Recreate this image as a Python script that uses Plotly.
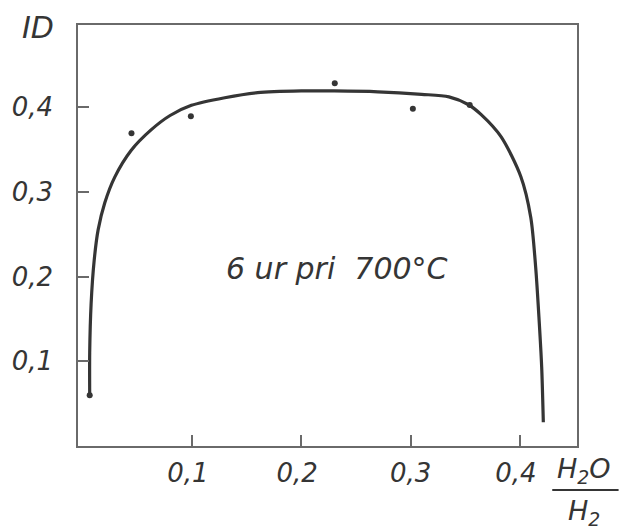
import plotly.graph_objects as go

# Smoothed curve of ID versus the H2O/H2 ratio (6 h at 700 °C)
curve_ratio = [0.0065, 0.0065, 0.0078, 0.0106, 0.0142, 0.0203, 0.0293, 0.0445, 0.0626,
               0.080, 0.0995, 0.130, 0.160, 0.200, 0.230, 0.270, 0.310, 0.335, 0.3526,
               0.3645, 0.3826, 0.4007, 0.4098, 0.4143, 0.4173, 0.4198, 0.4213]
curve_id = [0.060, 0.110, 0.168, 0.219, 0.255, 0.287, 0.317, 0.349, 0.373,
            0.390, 0.402, 0.411, 0.417, 0.419, 0.419, 0.418, 0.415, 0.412, 0.403,
            0.391, 0.365, 0.318, 0.270, 0.211, 0.152, 0.093, 0.028]

# Measured points
meas_ratio = [0.0447, 0.099, 0.2306, 0.302, 0.354]
meas_id = [0.369, 0.389, 0.428, 0.398, 0.4025]

x_ticks = [0.1, 0.2, 0.3, 0.4]
x_ticktext = ["0,1 ", "0,2 ", "0,3", "0,4 "]
y_ticks = [0.1, 0.2, 0.3, 0.4]
y_ticktext = ["0,1", "0,2", "0,3", "0,4"]

INK = "#353535"
AXIS = "#6a6a6a"
FONT = "DejaVu Sans"

W, H = 619, 530
L, R, T, B = 73, 42, 25, 84


def px(x, y):
    """Pixel position in the page -> paper coordinates."""
    return (x - L) / (W - L - R), (H - B - y) / (H - T - B)


fig = go.Figure()
fig.add_trace(go.Scatter(
    x=curve_ratio, y=curve_id, mode="lines",
    line=dict(color=INK, width=3.2, shape="spline", smoothing=0.8),
    hoverinfo="skip", showlegend=False,
))
fig.add_trace(go.Scatter(
    x=meas_ratio, y=meas_id, mode="markers",
    marker=dict(color=INK, size=6),
    showlegend=False,
))
fig.add_trace(go.Scatter(
    x=[curve_ratio[0]], y=[curve_id[0]], mode="markers",
    marker=dict(color=INK, size=6), showlegend=False,
))

axis_common = dict(
    showgrid=False, zeroline=False, showline=True, linecolor=AXIS, linewidth=1.6,
    mirror=True, ticks="inside", ticklen=11, tickwidth=1.5, tickcolor=AXIS,
    tickfont=dict(family=FONT, size=26, color=INK, style="italic"),
)

fig.update_xaxes(range=[-0.0042, 0.4521], tickvals=x_ticks, ticktext=x_ticktext,
                 ticklabelstandoff=3, **axis_common)
fig.update_yaxes(range=[0, 0.4968], tickvals=y_ticks, ticktext=y_ticktext,
                 ticklabelstandoff=18, **axis_common)

annotations = []
ax, ay = px(33, 27)
annotations.append(dict(x=ax, y=ay, xref="paper", yref="paper", text="ID",
                        showarrow=False, font=dict(family=FONT, size=30, color=INK, style="italic"),
                        xanchor="center", yanchor="middle"))
ax, ay = px(335, 268)
annotations.append(dict(x=ax, y=ay, xref="paper", yref="paper", text="6 ur pri  700°C",
                        showarrow=False, font=dict(family=FONT, size=30, color=INK, style="italic"),
                        xanchor="center", yanchor="middle"))
ax, ay = px(584, 470)
annotations.append(dict(x=ax, y=ay, xref="paper", yref="paper", text="H<sub>2</sub>O",
                        showarrow=False, font=dict(family=FONT, size=27, color=INK, style="italic"),
                        xanchor="center", yanchor="middle"))
ax, ay = px(584, 512)
annotations.append(dict(x=ax, y=ay, xref="paper", yref="paper", text="H<sub>2</sub>",
                        showarrow=False, font=dict(family=FONT, size=27, color=INK, style="italic"),
                        xanchor="center", yanchor="middle"))

x0, y0 = px(552, 490)
x1, _ = px(619, 490)
fig.add_shape(type="line", xref="paper", yref="paper", x0=x0, x1=x1, y0=y0, y1=y0,
              line=dict(color=INK, width=2.2))

fig.update_layout(
    width=W, height=H, margin=dict(l=L, r=R, t=T, b=B),
    paper_bgcolor="white", plot_bgcolor="white",
    annotations=annotations,
)

fig.write_html("out.html")
